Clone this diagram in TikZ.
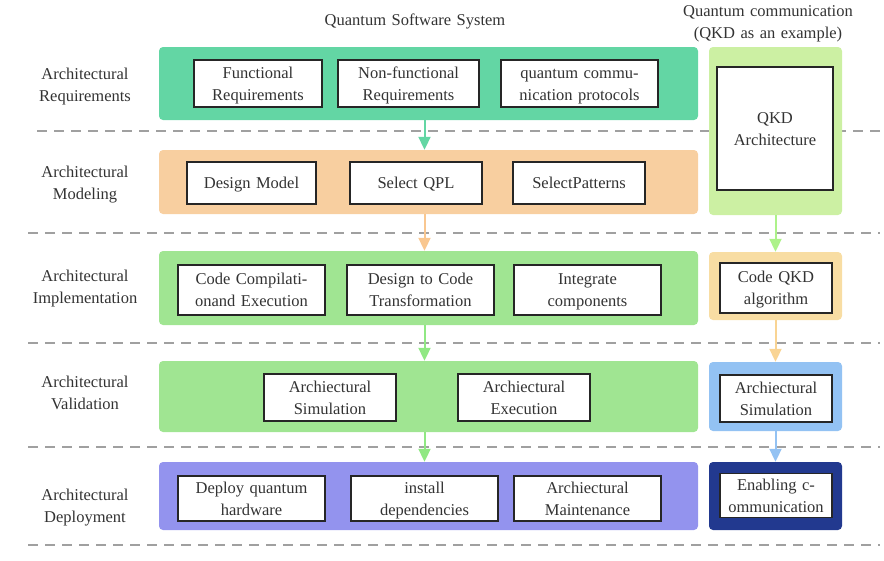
\documentclass[tikz,border=0pt]{standalone}
\usepackage{fontspec}
\setmainfont{Liberation Serif}
\usepackage{xcolor}
\usetikzlibrary{arrows.meta,positioning,calc}

\definecolor{txtgray}{HTML}{333333}
\definecolor{reqgreen}{HTML}{63D6A4}
\definecolor{modorange}{HTML}{F8CFA0}
\definecolor{impgreen}{HTML}{A0E592}
\definecolor{deppurple}{HTML}{9393EE}
\definecolor{qkdgreen}{HTML}{CCF0A3}
\definecolor{codeyellow}{HTML}{F8DDA3}
\definecolor{simblue}{HTML}{93C2F3}
\definecolor{enabblue}{HTML}{22398F}
\definecolor{sepgray}{HTML}{A0A0A0}

\begin{document}
\begin{tikzpicture}[
    x=1pt, y=-1pt,
    every node/.style={font=\fontsize{16.5}{22}\selectfont, text=txtgray},
    txt/.style={align=center, text width=#1, execute at begin node={\rule{0pt}{16.5pt}}, execute at end node={\rule[-5.5pt]{0pt}{0pt}}},
    txt/.default=200pt,
    panel/.style={rectangle, rounded corners=4pt, inner sep=0pt, draw=none},
    box/.style={txt=#1, rectangle, draw=black!85, line width=1.7pt, fill=white, inner sep=0pt, minimum height=47pt},
    stage/.style={txt=140pt, inner sep=0pt},
    sep/.style={sepgray, line width=1.3pt, dash pattern=on 10pt off 7pt},
    arrow/.style={-{Triangle[width=12pt,length=13pt]}, line width=2pt}
]
    \useasboundingbox (0,0) rectangle (884,560);

    % Titles
    \node[txt, inner sep=0pt] (title) at (415,20) {Quantum Software System};
    \node[txt, inner sep=0pt] (qtitle) at (768,22) {Quantum communication\\(QKD as an example)};

    % Separators
    \draw[sep] (37,131) -- (880,131);
    \draw[sep] (28,233) -- (880,233);
    \draw[sep] (28,343) -- (880,343);
    \draw[sep] (28,447) -- (880,447);
    \draw[sep] (28,545) -- (880,545);

    % Stage labels
    \node[stage] (s1) at (85,85) {Architectural\\Requirements};
    \node[stage] (s2) at (85,183) {Architectural\\Modeling};
    \node[stage] (s3) at (85,287) {Architectural\\Implementation};
    \node[stage] (s4) at (85,393) {Architectural\\Validation};
    \node[stage] (s5) at (85,505.5) {Architectural\\Deployment};

    % Software panels
    \node[panel, fill=reqgreen, minimum width=539pt, minimum height=73pt] (p1) at (428.5,83.5) {};
    \node[panel, fill=modorange, minimum width=539pt, minimum height=64pt] (p2) at (428.5,182) {};
    \node[panel, fill=impgreen, minimum width=539pt, minimum height=74pt] (p3) at (428.5,288) {};
    \node[panel, fill=impgreen, minimum width=539pt, minimum height=71pt] (p4) at (428.5,396.5) {};
    \node[panel, fill=deppurple, minimum width=539pt, minimum height=68pt] (p5) at (428.5,496) {};

    % Requirement boxes
    \node[box=128pt] (funreq) at (258,83.5) {Functional\\Requirements};
    \node[box=141pt] (nfreq) at (408.5,83.5) {Non-functional\\Requirements};
    \node[box=157pt] (qcp) at (579.5,83.5) {quantum commu-\\nication protocols};

    % Modeling boxes
    \node[box=129pt, minimum height=42pt] (dmodel) at (251.5,183) {Design Model};
    \node[box=132pt, minimum height=42pt] (qpl) at (416,183) {Select QPL};
    \node[box=132pt, minimum height=42pt] (pattern) at (579,183) {SelectPatterns};

    % Implementation boxes
    \node[box=147pt, minimum height=50pt] (compile) at (251.5,290) {Code Compilati-\\onand Execution};
    \node[box=147pt, minimum height=50pt] (d2c) at (420.5,290) {Design to Code\\Transformation};
    \node[box=147pt, minimum height=50pt] (integ) at (587.5,290) {Integrate\\components};

    % Validation boxes
    \node[box=132pt] (vsim) at (330,397.5) {Archiectural\\Simulation};
    \node[box=132pt] (vexe) at (524,397.5) {Archiectural\\Execution};

    % Deployment boxes
    \node[box=147pt, minimum height=45pt] (hw) at (251.5,498.5) {Deploy quantum\\hardware};
    \node[box=147pt, minimum height=45pt] (deps) at (424.5,498.5) {install\\dependencies};
    \node[box=147pt, minimum height=45pt] (maint) at (587.5,498.5) {Archiectural\\Maintenance};

    % QKD panels
    \node[panel, fill=qkdgreen, minimum width=133pt, minimum height=168pt] (q1) at (775.5,131) {};
    \node[panel, fill=codeyellow, minimum width=133pt, minimum height=68pt] (q2) at (775.5,286) {};
    \node[panel, fill=simblue, minimum width=133pt, minimum height=69pt] (q3) at (775.5,396.5) {};
    \node[panel, fill=enabblue, minimum width=133pt, minimum height=68pt] (q4) at (775.5,496) {};

    \node[box=116pt, minimum height=123pt] (qkdarch) at (775,128.5) {QKD\\Architecture};
    \node[box=112pt, minimum height=50pt] (qkdcode) at (776,288) {Code QKD\\algorithm};
    \node[box=112pt, minimum height=47pt] (qkdsim) at (776,398.5) {Archiectural\\Simulation};
    \node[box=112pt, minimum height=43pt] (qkdcom) at (776,495.5) {Enabling c-\\ommunication};

    % Flow arrows
    \coordinate (mid) at (424.5,0);
    \draw[arrow, reqgreen] (p1.south -| mid) -- (p2.north -| mid);
    \draw[arrow, modorange!90!orange] (p2.south -| mid) -- (p3.north -| mid);
    \draw[arrow, impgreen!90!green] (p3.south -| mid) -- (p4.north -| mid);
    \draw[arrow, impgreen!90!green] (p4.south -| mid) -- (p5.north -| mid);

    \draw[arrow, qkdgreen!85!green] (q1) -- (q2);
    \draw[arrow, codeyellow!90!orange] (q2) -- (q3);
    \draw[arrow, simblue] (q3) -- (q4);
\end{tikzpicture}
\end{document}
